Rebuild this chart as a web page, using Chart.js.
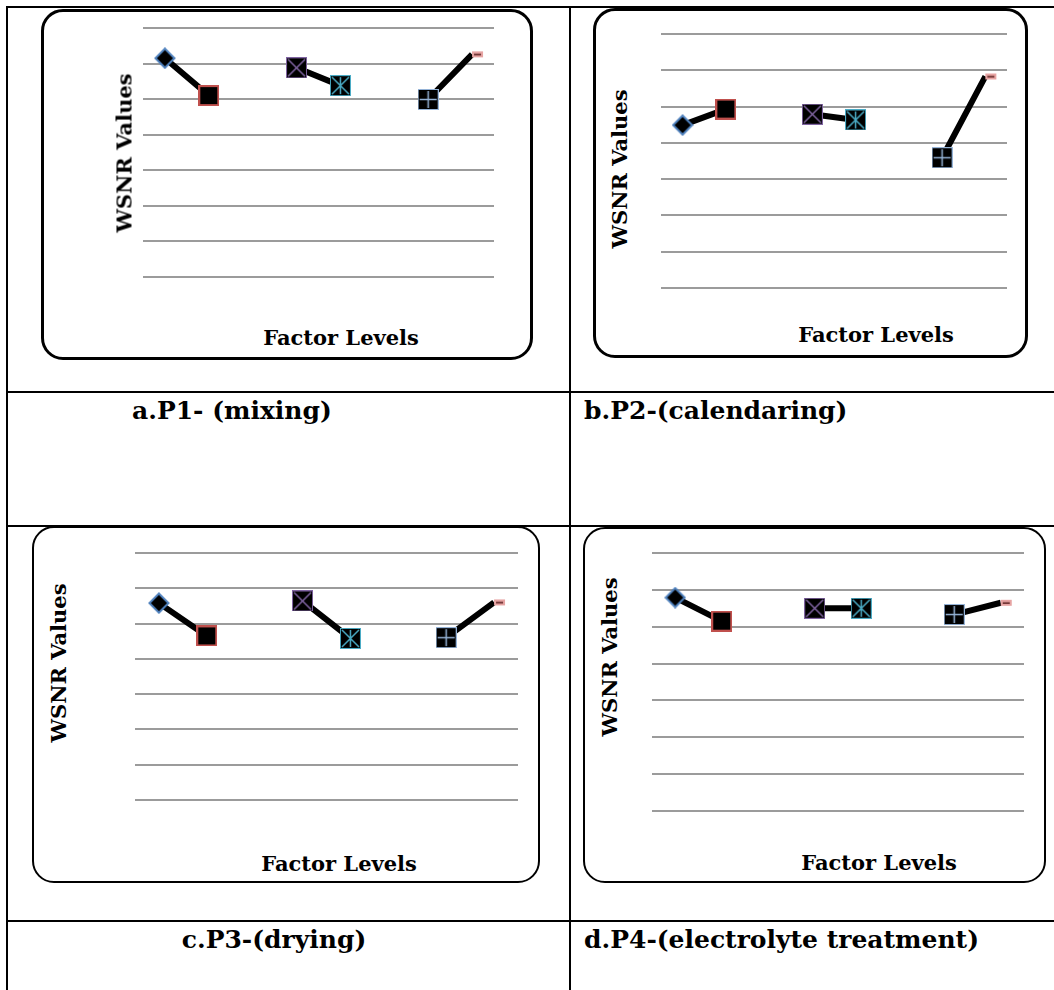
<!DOCTYPE html>
<html>
<head>
<meta charset="utf-8">
<script src="https://cdn.jsdelivr.net/npm/chart.js@4.4.1/dist/chart.umd.min.js"></script>
<style>
body{margin:0;width:1054px;height:990px;overflow:hidden;background:#fff;position:relative;font-family:"DejaVu Serif",serif;font-weight:bold;color:#000}
.ln{position:absolute;background:#000}
.box{position:absolute;box-sizing:border-box;border:3px solid #000;border-radius:22px}
.plot{position:absolute}
.ytl,.xtl{position:absolute;font-size:21px;white-space:nowrap;line-height:1}
.ytl{transform:translate(-50%,-50%) rotate(-90deg)}
.xtl{transform:translate(-50%,-50%)}
.cap{position:absolute;font-size:25px;line-height:1;white-space:nowrap}
</style>
</head>
<body>
<!-- table rules -->
<div class="ln" style="left:6px;top:6px;width:1048px;height:2px"></div>
<div class="ln" style="left:6px;top:6px;width:2px;height:984px"></div>
<div class="ln" style="left:569px;top:6px;width:2px;height:984px"></div>
<div class="ln" style="left:6px;top:391px;width:1048px;height:2px"></div>
<div class="ln" style="left:6px;top:525px;width:1048px;height:2px"></div>
<div class="ln" style="left:6px;top:920px;width:1048px;height:2px"></div>

<!-- chart frames -->
<div class="box" style="left:41px;top:9px;width:492px;height:351px"></div>
<div class="box" style="left:593px;top:8px;width:435px;height:350px"></div>
<div class="box" style="left:32px;top:526px;width:508px;height:357px;border-width:2px"></div>
<div class="box" style="left:583px;top:527px;width:463px;height:356px;border-width:2px"></div>

<div class="plot" style="left:127px;top:12px;width:383px;height:281px"><canvas id="chartA"></canvas></div>
<div class="plot" style="left:645px;top:18px;width:378px;height:286px"><canvas id="chartB"></canvas></div>
<div class="plot" style="left:119px;top:537px;width:415px;height:279px"><canvas id="chartC"></canvas></div>
<div class="plot" style="left:636px;top:537px;width:404px;height:290px"><canvas id="chartD"></canvas></div>

<div class="ytl" style="left:124px;top:153px">WSNR Values</div>
<div class="xtl" style="left:341px;top:337px">Factor Levels</div>
<div class="ytl" style="left:619px;top:169px">WSNR Values</div>
<div class="xtl" style="left:876px;top:334px">Factor Levels</div>
<div class="ytl" style="left:58px;top:663px">WSNR Values</div>
<div class="xtl" style="left:339px;top:863px">Factor Levels</div>
<div class="ytl" style="left:609px;top:657px">WSNR Values</div>
<div class="xtl" style="left:879px;top:862px">Factor Levels</div>

<div class="cap" style="left:132px;top:398px">a.P1- (mixing)</div>
<div class="cap" style="left:584px;top:398px">b.P2-(calendaring)</div>
<div class="cap" style="left:274px;top:927px;transform:translateX(-50%)">c.P3-(drying)</div>
<div class="cap" style="left:584px;top:927px">d.P4-(electrolyte treatment)</div>

<script>
// factor levels on the x axis (empty slots separate the factors)
const levels = ['F1-L1', 'F1-L2', 'gap1', 'F2-L1', 'F2-L2', 'gap2', 'F3-L1', 'F3-L2'];

// WSNR values
const p1Mixing      = [61.5, 51.0, null, 58.8, 53.8, null, 49.9, 62.6];
const p2Calendaring = [44.9, 49.3, null, 47.9, 46.3, null, 35.9, 58.3];
const p3Drying      = [55.8, 46.5, null, 56.4, 45.8, null, 46.0, 56.0];
const p4Electrolyte = [57.9, 51.5, null, 55.0, 55.0, null, 53.3, 56.5];

// gridline values (labels are hidden in the original)
const yTicks = [0, 10, 20, 30, 40, 50, 60, 70];

// marker kinds per level, excel style
const markerKinds = ['diamond', 'square', null, 'xsq', 'star', null, 'plus', 'dash'];

function makeMarker(kind) {
    const c = document.createElement('canvas');
    const g = c.getContext('2d');
    if (kind === 'diamond') {
        c.width = 22; c.height = 22;
        g.beginPath();
        g.moveTo(11, 1.5); g.lineTo(20.5, 11); g.lineTo(11, 20.5); g.lineTo(1.5, 11); g.closePath();
        g.fillStyle = '#000'; g.fill();
        g.strokeStyle = '#4f81bd'; g.lineWidth = 2; g.stroke();
    } else if (kind === 'square') {
        c.width = 21; c.height = 21;
        g.fillStyle = '#000'; g.fillRect(1, 1, 19, 19);
        g.strokeStyle = '#c0504d'; g.lineWidth = 2; g.strokeRect(1, 1, 19, 19);
    } else if (kind === 'dash') {
        c.width = 30; c.height = 8;
        g.fillStyle = '#e6a3a2'; g.fillRect(15, 1, 11, 6);
        g.fillStyle = '#5a2020'; g.fillRect(17, 3.5, 7, 1.5);
    } else {
        const col = kind === 'xsq' ? '#8064a2' : (kind === 'star' ? '#4bacc6' : '#95b3d7');
        c.width = 21; c.height = 21;
        g.fillStyle = '#000'; g.fillRect(0, 0, 21, 21);
        g.strokeStyle = col; g.lineWidth = 1; g.strokeRect(0.5, 0.5, 20, 20);
        g.lineWidth = 1.5;
        g.beginPath();
        if (kind === 'xsq' || kind === 'star') {
            g.moveTo(2, 2); g.lineTo(19, 19);
            g.moveTo(19, 2); g.lineTo(2, 19);
        }
        if (kind === 'star' || kind === 'plus') {
            g.moveTo(10.5, 2); g.lineTo(10.5, 19);
        }
        if (kind === 'plus') {
            g.moveTo(2, 10.5); g.lineTo(19, 10.5);
        }
        g.stroke();
    }
    return c;
}

const markerImgs = markerKinds.map(k => k ? makeMarker(k) : 'circle');

function drawPanel(id, values) {
    new Chart(document.getElementById(id), {
        type: 'line',
        data: {
            labels: levels,
            datasets: [{
                data: values,
                borderColor: '#000',
                borderWidth: 6,
                pointStyle: markerImgs,
                pointRadius: 10,
                spanGaps: false,
                fill: false
            }]
        },
        options: {
            responsive: true,
            maintainAspectRatio: false,
            animation: false,
            events: [],
            layout: { padding: 14 },
            plugins: { legend: { display: false }, tooltip: { enabled: false } },
            scales: {
                x: {
                    offset: true,
                    grid: { display: false, drawTicks: false },
                    border: { display: false },
                    ticks: { display: false }
                },
                y: {
                    min: yTicks[0],
                    max: yTicks[yTicks.length - 1],
                    grid: { color: '#9b9b9b', lineWidth: 2, drawTicks: false },
                    border: { display: false },
                    ticks: { display: false, stepSize: yTicks[1] - yTicks[0] }
                }
            }
        }
    });
}

drawPanel('chartA', p1Mixing);
drawPanel('chartB', p2Calendaring);
drawPanel('chartC', p3Drying);
drawPanel('chartD', p4Electrolyte);
</script>
</body>
</html>
